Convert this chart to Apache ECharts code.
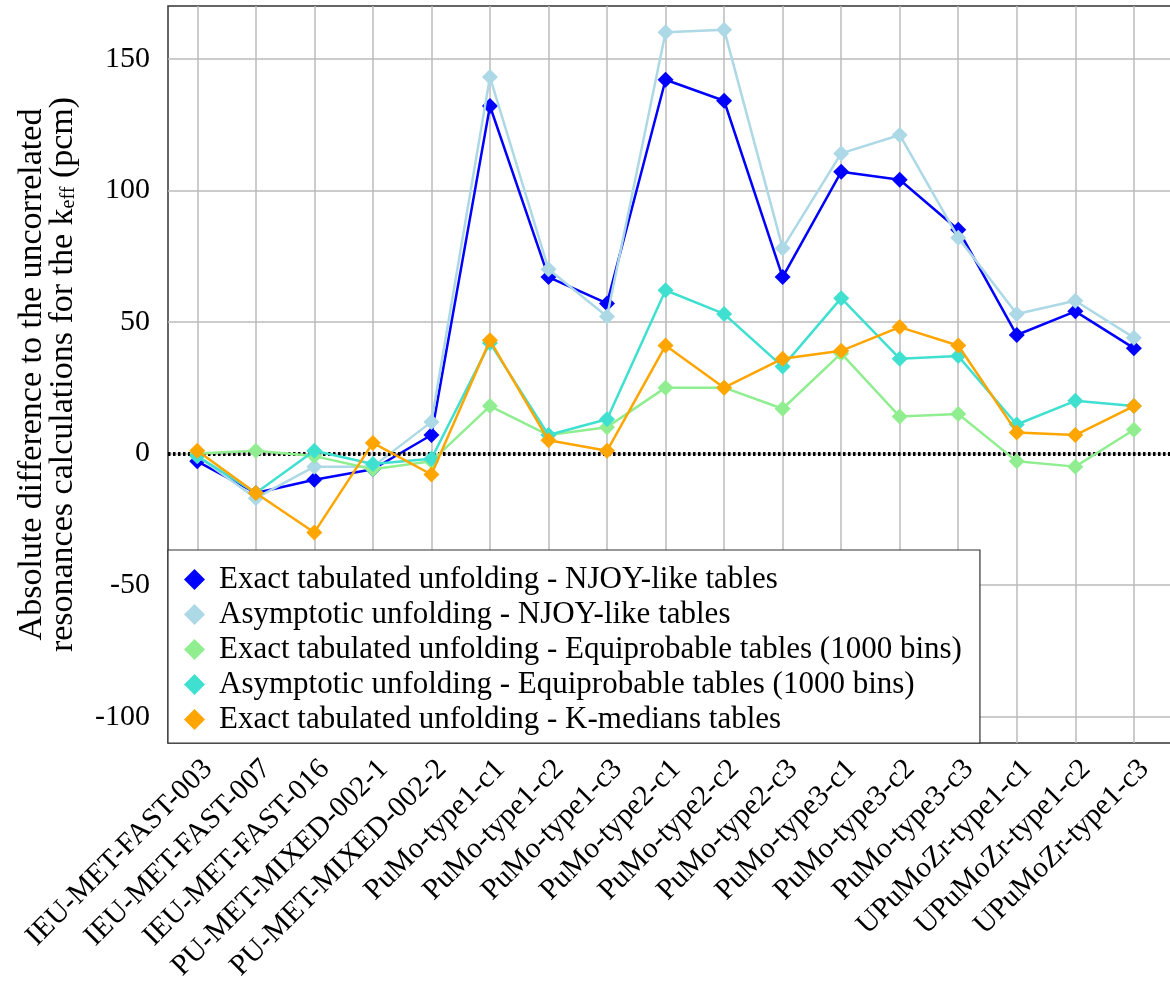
<!DOCTYPE html>
<html>
<head>
<meta charset="utf-8">
<script src="https://cdn.jsdelivr.net/npm/echarts@6/dist/echarts.min.js"></script>
<style>
html,body{margin:0;padding:0;background:#fff;}
#chart{width:1170px;height:983px;}
</style>
</head>
<body>
<div id="chart"></div>
<script>
const categories = ['IEU-MET-FAST-003','IEU-MET-FAST-007','IEU-MET-FAST-016','PU-MET-MIXED-002-1','PU-MET-MIXED-002-2',
  'PuMo-type1-c1','PuMo-type1-c2','PuMo-type1-c3','PuMo-type2-c1','PuMo-type2-c2','PuMo-type2-c3',
  'PuMo-type3-c1','PuMo-type3-c2','PuMo-type3-c3','UPuMoZr-type1-c1','UPuMoZr-type1-c2','UPuMoZr-type1-c3'];
const exactNjoy   = [-3, -15, -10, -6, 7, 132, 67, 57, 142, 134, 67, 107, 104, 85, 45, 54, 40];
const asympNjoy   = [-1, -17, -5, -5, 12, 143, 70, 52, 160, 161, 78, 114, 121, 82, 53, 58, 44];
const exactEqui   = [0, 1, -1, -6, -3, 18, 7, 10, 25, 25, 17, 38, 14, 15, -3, -5, 9];
const asympEqui   = [-1, -15, 1, -4, -2, 42, 7, 13, 62, 53, 33, 59, 36, 37, 11, 20, 18];
const exactKmed   = [1, -15, -30, 4, -8, 43, 5, 1, 41, 25, 36, 39, 48, 41, 8, 7, 18];
const seriesNames = ['Exact tabulated unfolding - NJOY-like tables',
  'Asymptotic unfolding - NJOY-like tables',
  'Exact tabulated unfolding - Equiprobable tables (1000 bins)',
  'Asymptotic unfolding - Equiprobable tables (1000 bins)',
  'Exact tabulated unfolding - K-medians tables'];
const yTicks = [-100, -50, 0, 50, 100, 150];

const colors = ['#0000ff', '#add8e6', '#90ee90', '#40e0d0', '#ffa500'];
const allData = [exactNjoy, asympNjoy, exactEqui, asympEqui, exactKmed];
const FONT = 'Liberation Serif';
const xIdx = categories.map((c, i) => i);

const series = allData.map((d, k) => ({
  name: seriesNames[k],
  type: 'line',
  data: d.map((v, i) => [i, v]),
  symbol: 'diamond',
  symbolSize: 16,
  lineStyle: {color: colors[k], width: 2.5},
  itemStyle: {color: colors[k]},
  z: 3 + k,
  animation: false
}));
series[0].markLine = {
  silent: true, symbol: 'none', animation: false,
  label: {show: false},
  lineStyle: {color: '#000', type: [2.5, 2.5], width: 4},
  data: [{yAxis: 0}]
};

const chart = echarts.init(document.getElementById('chart'));
chart.setOption({
  animation: false,
  backgroundColor: '#fff',
  grid: {left: 168, top: 6, right: -6, bottom: 240, outerBoundsMode: 'none', containLabel: false,
    show: true, borderColor: '#333', borderWidth: 1.5, backgroundColor: 'transparent'},
  xAxis: {
    type: 'value', min: -0.5, max: 16.72,
    axisLine: {show: false},
    axisTick: {show: false, customValues: xIdx},
    splitLine: {show: true, lineStyle: {color: '#bbb', width: 1.5}},
    axisLabel: {
      customValues: xIdx,
      formatter: v => categories[Math.round(v)],
      rotate: 45, margin: 11, verticalAlign: 'top', align: 'right',
      fontFamily: FONT, fontSize: 29.5, color: '#000'
    }
  },
  yAxis: {
    type: 'value', min: -110, max: 170,
    axisLine: {show: false},
    axisTick: {show: false, customValues: yTicks},
    splitLine: {show: true, lineStyle: {color: '#bbb', width: 1.5}},
    axisLabel: {customValues: yTicks, margin: 18, fontFamily: FONT, fontSize: 30, color: '#000'},
    name: '{a|Absolute difference to the uncorrelated}\n{a|resonances calculations for the k}{s|eff}{a| (pcm)}',
    nameLocation: 'middle', nameGap: 89, nameRotate: 90,
    nameTextStyle: {
      fontFamily: FONT, color: '#000', lineHeight: 31,
      rich: {
        a: {fontFamily: FONT, fontSize: 34, color: '#000', lineHeight: 31},
        s: {fontFamily: FONT, fontSize: 20, color: '#000', verticalAlign: 'bottom', lineHeight: 24}
      }
    }
  },
  legend: {
    orient: 'vertical', left: 168, top: 550,
    padding: [14, 18, 8, 16],
    itemGap: 4, itemWidth: 21, itemHeight: 21, icon: 'diamond',
    backgroundColor: '#fff', borderColor: '#333', borderWidth: 1.2,
    textStyle: {fontFamily: FONT, fontSize: 31, color: '#000', lineHeight: 30, padding: [0, 0, 0, 9]},
    data: seriesNames,
    z: 10
  },
  series: series
});
</script>
</body>
</html>
